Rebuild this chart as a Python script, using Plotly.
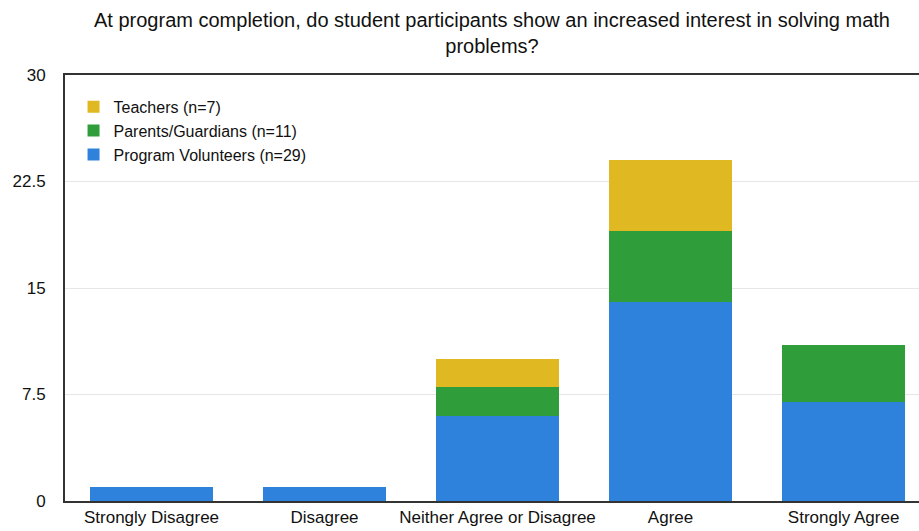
import plotly.graph_objects as go

categories = ["Strongly Disagree", "Disagree", "Neither Agree or Disagree", "Agree", "Strongly Agree"]
volunteers = [1, 1, 6, 14, 7]
parents = [0, 0, 2, 5, 4]
teachers = [0, 0, 2, 5, 0]
y_ticks = [0, 7.5, 15, 22.5, 30]
y_tick_labels = ["0", "7.5", "15", "22.5", "30"]

series = [
    ("Program Volunteers (n=29)", volunteers, "#2f82dc"),
    ("Parents/Guardians (n=11)", parents, "#2f9e3a"),
    ("Teachers (n=7)", teachers, "#e0b922"),
]

fig = go.Figure()
for name, values, color in series:
    fig.add_trace(go.Bar(
        x=categories, y=values, name=name,
        marker=dict(color=color, line=dict(width=0)),
    ))

fig.update_layout(
    width=919, height=531,
    barmode="stack", bargap=0.29,
    plot_bgcolor="white", paper_bgcolor="white",
    font=dict(family="Liberation Sans, Arial, sans-serif", size=17, color="#111"),
    margin=dict(l=65, r=0, t=75, b=30),
    title=dict(
        text="At program completion, do student participants show an increased interest in solving math<br>problems?",
        x=0.5, xref="paper", xanchor="center",
        yref="container", y=1 - 27 / 531, yanchor="middle",
        font=dict(size=20, color="#111"),
    ),
    legend=dict(
        x=0.01, y=0.965, xanchor="left", yanchor="top",
        traceorder="reversed", bgcolor="rgba(0,0,0,0)",
        font=dict(size=16), itemwidth=30, tracegroupgap=0,
    ),
    showlegend=True,
)
fig.update_xaxes(
    range=[-0.5, 4.436], showline=True, linecolor="#333", linewidth=2,
    mirror=True, ticks="", showgrid=False,
)
fig.update_yaxes(
    range=[0, 30], tickvals=y_ticks, ticktext=y_tick_labels,
    showline=True, linecolor="#333", linewidth=2,
    showgrid=True, gridcolor="#e6e6e6", gridwidth=1,
    ticks="", ticklabelstandoff=14, zeroline=False,
)

fig.write_html("out.html")
